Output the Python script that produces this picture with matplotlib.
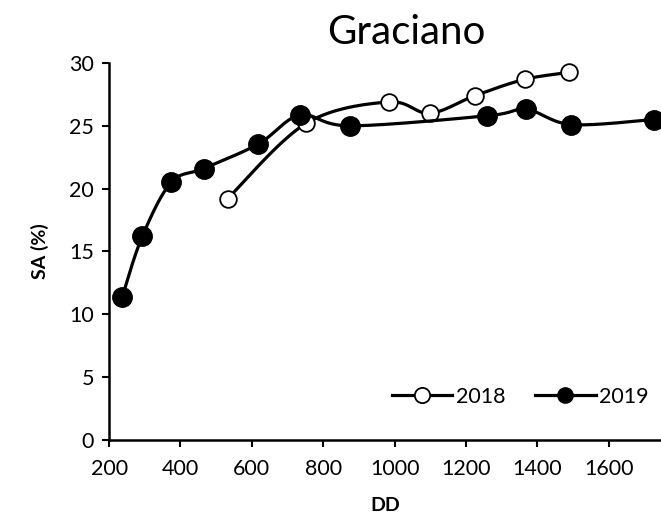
import numpy as np
import matplotlib
matplotlib.use('Agg')
import matplotlib.pyplot as plt

plt.rcParams['font.family'] = ['Lato', 'DejaVu Sans']

# data
dd_2018 = [532, 752, 983, 1098, 1225, 1364, 1489]
sa_2018 = [19.2, 25.2, 26.9, 26.0, 27.4, 28.7, 29.25]
dd_2019 = [237, 293, 374, 465, 618, 735, 875, 1260, 1369, 1495, 1725]
sa_2019 = [11.4, 16.2, 20.5, 21.6, 23.55, 25.85, 25.0, 25.8, 26.3, 25.1, 25.5]
xticks = [200, 400, 600, 800, 1000, 1200, 1400, 1600]
yticks = [0, 5, 10, 15, 20, 25, 30]


def smooth(xs, ys, n=30):
  # excel style smoothed line (catmull-rom as bezier)
  p = np.column_stack([xs, ys]).astype(float)
  p = np.vstack([p[0], p, p[-1]])
  out = []
  t = np.linspace(0, 1, n)[:, None]
  for i in range(1, len(p) - 2):
    p0, p1, p2, p3 = p[i-1], p[i], p[i+1], p[i+2]
    c1 = p1 + (p2 - p0) / 6
    c2 = p2 - (p3 - p1) / 6
    seg = (1-t)**3*p1 + 3*(1-t)**2*t*c1 + 3*(1-t)*t**2*c2 + t**3*p2
    out.append(seg)
  out = np.vstack(out)
  return out[:, 0], out[:, 1]


fig = plt.figure(figsize=(6.61, 5.25), dpi=100)
ax = fig.add_axes([0.165, 0.162, 0.835, 0.718])

sx, sy = smooth(dd_2018, sa_2018)
ax.plot(sx, sy, color='black', lw=2.3, clip_on=False)
ax.plot(dd_2018, sa_2018, ls='none', marker='o', ms=12, mfc='white', mec='black', mew=1.3, clip_on=False)
sx, sy = smooth(dd_2019, sa_2019)
ax.plot(sx, sy, color='black', lw=2.3, clip_on=False)
ax.plot(dd_2019, sa_2019, ls='none', marker='o', ms=14, mfc='black', mec='black', clip_on=False)

# legend handles
h1, = ax.plot([], [], color='black', lw=2.3, marker='o', ms=11, mfc='white', mec='black', mew=1.3)
h2, = ax.plot([], [], color='black', lw=2.3, marker='o', ms=11, mfc='black', mec='black')
ax.legend([h1, h2], ['2018', '2019'], loc='center', bbox_to_anchor=(0.745, 0.115), ncol=2,
          frameon=False, fontsize=15.5, handlelength=2.8, handletextpad=0.15, columnspacing=1.4)

ax.set_xlim(200, 1746)
ax.set_ylim(0, 30)
ax.set_xticks(xticks)
ax.set_yticks(yticks)
ax.tick_params(labelsize=15.5, width=1.5, length=5, direction='out')
ax.tick_params(axis='x', pad=9)
ax.tick_params(axis='y', pad=6)
for s in ['top', 'right']:
  ax.spines[s].set_visible(False)
for s in ['left', 'bottom']:
  ax.spines[s].set_linewidth(1.8)

ax.set_xlabel('DD', fontsize=14, fontweight='bold', labelpad=13)
ax.set_ylabel('SA (%)', fontsize=14, fontweight='bold', labelpad=14)
fig.text(0.614, 0.938, 'Graciano', fontsize=29, ha='center', va='center')

fig.savefig('out.png', dpi=100)
